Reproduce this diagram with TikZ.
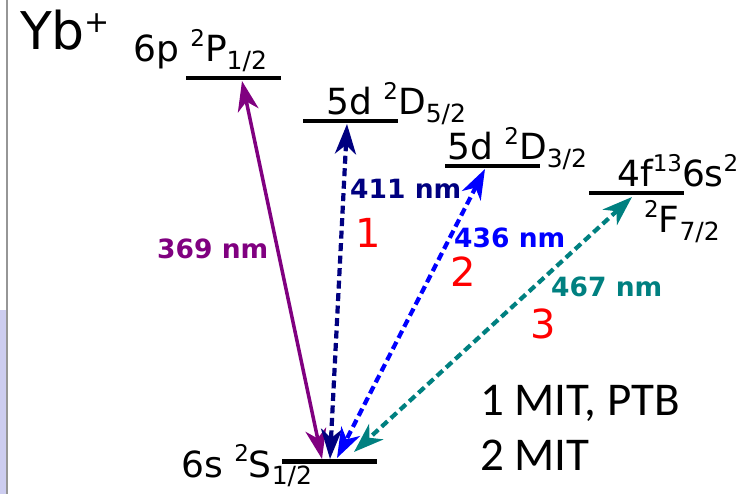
\documentclass[tikz,border=0pt]{standalone}
\usepackage{fontspec}
\setmainfont{DejaVu Sans}
\newfontfamily\carlfont{Carlito}
\usetikzlibrary{arrows.meta}
\newcommand\supr[1]{\raisebox{0.42em}{\fontsize{23}{23}\selectfont #1}}
\newcommand\subr[1]{\raisebox{-0.22em}{\fontsize{25}{25}\selectfont #1}}
\definecolor{cpurple}{RGB}{128,0,128}
\definecolor{cnavy}{RGB}{0,0,128}
\definecolor{cblue}{RGB}{0,0,255}
\definecolor{cteal}{RGB}{0,128,128}
\definecolor{edgegray}{RGB}{150,150,150}
\definecolor{edgelav}{RGB}{205,205,240}
\begin{document}
\begin{tikzpicture}[x=1pt,y=-1pt,
 lvl/.style={fill=black, draw=none, minimum width=95pt, minimum height=4.5pt, inner sep=0pt},
 lbl/.style={anchor=base west, inner sep=0pt, font=\fontsize{36}{40}\selectfont},
 wl/.style={anchor=base west, inner sep=0pt, font=\fontsize{26.5}{30}\selectfont\bfseries},
 num/.style={anchor=base west, inner sep=0pt, text=red, font=\fontsize{40}{44}\selectfont},
 note/.style={anchor=base west, inner sep=0pt, font=\fontsize{47}{50}\selectfont\carlfont},
 trans/.style={line width=3.5pt, {Stealth[length=30pt,width=21pt,inset=9pt]}-{Stealth[length=30pt,width=21pt,inset=9pt]}},
 dtrans/.style={trans, line width=4.2pt, dash pattern=on 8pt off 4.5pt},
]
\useasboundingbox (0,0) rectangle (747,494);
% left edge artifact
\fill[edgelav] (0,310) rectangle (6,494);
\draw[edgegray, line width=2.5pt] (7,0) -- (7,494);

% title
\node[anchor=base west, inner sep=0pt, font=\fontsize{52}{56}\selectfont] (title) at (20,50) {Yb\raisebox{17pt}{\fontsize{30}{30}\selectfont +}};

% levels
\node[lvl] (P) at (233.5,78) {};
\node[lvl] (D52) at (350,121) {};
\node[lvl] (D32) at (492.5,166) {};
\node[lvl] (F72) at (636.5,193) {};
\node[lvl] (S) at (329.5,461.5) {};

% level labels
\node[lbl] (Plab) at (133,62) {6p \supr{2}P\subr{1/2}};
\node[lbl] (D52lab) at (326,115) {5d \supr{2}D\subr{5/2}};
\node[lbl] (D32lab) at (447,160) {5d \supr{2}D\subr{3/2}};
\node[lbl] (Flab1) at (617,187) {4f\supr{13}6s\supr{2}};
\node[lbl] (Flab2) at (644,233) {\supr{2}F\subr{7/2}};
\node[lbl] (Slab) at (181,477) {6s \supr{2}S\subr{1/2}};

% arrow end points on the levels
\coordinate (pT) at (242,81);
\coordinate (pB) at (322,459);
\coordinate (nT) at (347,124);
\coordinate (nB) at (330,459);
\coordinate (bT) at (485,169);
\coordinate (bB) at (337,458);
\coordinate (tT) at (632,197);
\coordinate (tB) at (354,452);

\draw[trans, cpurple] (pT) -- (pB);
\draw[dtrans, cnavy] (nT) -- (nB);
\draw[dtrans, cblue] (bT) -- (bB);
\draw[dtrans, cteal] (tT) -- (tB);

% wavelength labels
\node[wl, text=cpurple] (w369) at (157,259) {369 nm};
\node[wl, text=cnavy] (w411) at (350,199) {411 nm};
\node[wl, text=cblue] (w436) at (454,248) {436 nm};
\node[wl, text=cteal] (w467) at (551,297) {467 nm};

% red numbers
\node[num] (n1) at (355,248) {1};
\node[num] (n2) at (450,287) {2};
\node[num] (n3) at (530,338) {3};

% notes
\node[note] (note1) at (480,415) {1 MIT, PTB};
\node[note] (note2) at (480,470) {2 MIT};
\end{tikzpicture}
\end{document}
